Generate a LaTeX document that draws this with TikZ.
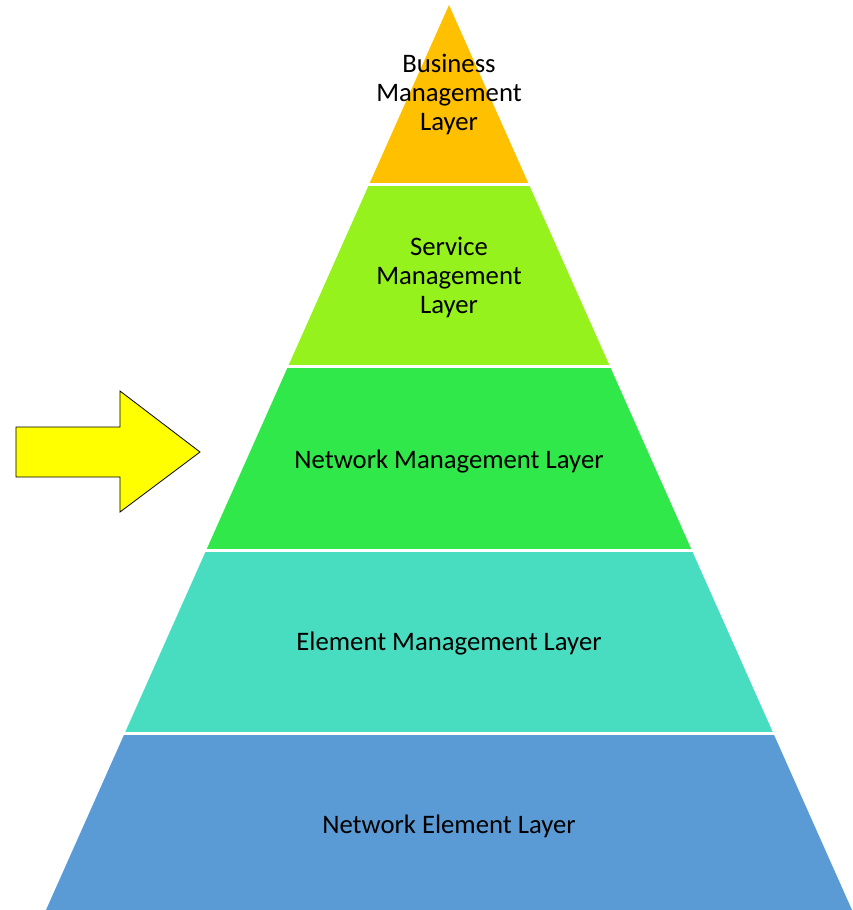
\documentclass[tikz,border=0pt]{standalone}
\usepackage{fontspec}
\setmainfont{Carlito}
\usetikzlibrary{calc}
\definecolor{cbus}{HTML}{FFC000}
\definecolor{csvc}{HTML}{96F21C}
\definecolor{cnet}{HTML}{30E84A}
\definecolor{cele}{HTML}{48DDC0}
\definecolor{cne}{HTML}{5B9BD5}
\definecolor{carrow}{HTML}{FFFF00}
\begin{document}
\begin{tikzpicture}[x=1pt,y=-1pt,
  lbl/.style={align=center,font=\fontsize{26.7}{29}\selectfont,text=black,inner sep=0pt},
  sep/.style={draw=white,line width=3pt}]
\useasboundingbox (0,0) rectangle (852,910);
% pyramid outline points
\coordinate (apex) at (449,5);
\coordinate (bl) at (46,910);
\coordinate (br) at (852,910);
% layers
\fill[cne] (bl) -- (br) -- ($(apex)!{(733-5)/905}!(br)$) -- ($(apex)!{(733-5)/905}!(bl)$) -- cycle;
\fill[cele] ($(apex)!{(733-5)/905}!(bl)$) -- ($(apex)!{(733-5)/905}!(br)$) -- ($(apex)!{(550-5)/905}!(br)$) -- ($(apex)!{(550-5)/905}!(bl)$) -- cycle;
\fill[cnet] ($(apex)!{(550-5)/905}!(bl)$) -- ($(apex)!{(550-5)/905}!(br)$) -- ($(apex)!{(367-5)/905}!(br)$) -- ($(apex)!{(367-5)/905}!(bl)$) -- cycle;
\fill[csvc] ($(apex)!{(367-5)/905}!(bl)$) -- ($(apex)!{(367-5)/905}!(br)$) -- ($(apex)!{(184.5-5)/905}!(br)$) -- ($(apex)!{(184.5-5)/905}!(bl)$) -- cycle;
\fill[cbus] ($(apex)!{(184.5-5)/905}!(bl)$) -- ($(apex)!{(184.5-5)/905}!(br)$) -- (apex) -- cycle;
% separators
\foreach \yy in {184.5,367,550,733}{
  \draw[sep] ($(apex)!{(\yy-5)/905}!(bl)+(-3,0)$) -- ($(apex)!{(\yy-5)/905}!(br)+(3,0)$);
}
% labels
\node[lbl] (bus) at (449,94.5) {Business\\Management\\Layer};
\node[lbl] (svc) at (449,277.5) {Service\\Management\\Layer};
\node[lbl] (net) at (449,461.5) {Network Management Layer};
\node[lbl] (ele) at (449,643.5) {Element Management Layer};
\node[lbl] (ne) at (449,826.5) {Network Element Layer};
% arrow
\draw[fill=carrow,draw=black,line width=0.8pt,line join=miter]
  (16,427) -- (120,427) -- (120,391) -- (200,452) -- (120,512) -- (120,477) -- (16,477) -- cycle;
\end{tikzpicture}
\end{document}
